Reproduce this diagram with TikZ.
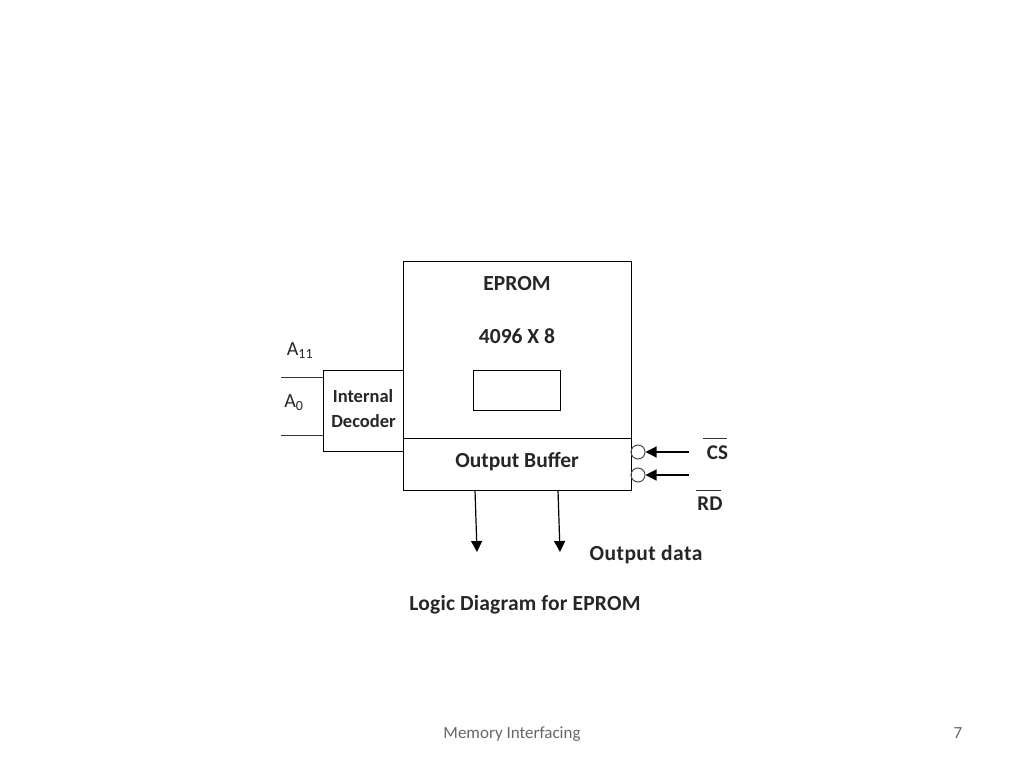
\documentclass[tikz,border=0pt]{standalone}
\usepackage{fontspec}
\setmainfont{Carlito}
\usetikzlibrary{arrows.meta}
\tikzset{
    block/.style={draw, inner sep=0pt, line width=1pt, fill=white},
    label/.style={inner sep=0pt, text=black!85},
    boldlabel/.style={inner sep=0pt, font=\fontsize{21.5}{24}\selectfont\bfseries, text=black!85},
    bubble/.style={draw=black!70, circle, inner sep=0pt, minimum size=14pt, line width=1pt},
    sig/.style={line width=1pt, black!80},
    flow/.style={line width=1.2pt, -{Triangle[length=11pt, width=11pt]}},
}
\begin{document}
\begin{tikzpicture}[x=1pt, y=-1pt]
    \useasboundingbox (0,0) rectangle (1024,768);

    \draw (517,375.5) node[block, minimum width=228pt, minimum height=229pt] (eprom) {};
    \draw (517,464) node[block, minimum width=228pt, minimum height=52pt] (buffer) {};
    \draw (363,410.5) node[block, minimum width=80pt, minimum height=81pt, align=center] (decoder) {};
    \draw (517,390) node[block, minimum width=87pt, minimum height=40pt] (cell) {};

    \draw (517,283.5) node[boldlabel] (title) {EPROM};
    \draw (517,336) node[boldlabel] (size) {4096 X 8};
    \draw (517,462) node[boldlabel] (buffertext) {Output Buffer};
    \draw (363,396) node[label, font=\fontsize{18.5}{20}\selectfont\bfseries] (dectop) {Internal};
    \draw (363.5,421) node[label, font=\fontsize{18.5}{20}\selectfont\bfseries] (decbot) {Decoder};

    \draw (300,351) node[label, font=\fontsize{20}{22}\selectfont] (a11) {A\textsubscript{11}};
    \draw (294,403) node[label, font=\fontsize{20}{22}\selectfont] (a0) {A\textsubscript{0}};
    \draw (717.5,453) node[boldlabel, font=\fontsize{21}{24}\selectfont\bfseries] (cs) {CS};
    \draw (710,504) node[boldlabel, font=\fontsize{21}{24}\selectfont\bfseries] (rd) {RD};
    \draw (646,555) node[boldlabel, font=\fontsize{21.5}{24}\selectfont\bfseries\addfontfeature{LetterSpace=2}] (outdata) {Output data};
    \draw (525,605) node[boldlabel, font=\fontsize{21.5}{24}\selectfont\bfseries\addfontfeature{LetterSpace=1}] (caption) {Logic Diagram for EPROM};
    \draw (512,734) node[label, text=black!60, font=\fontsize{17}{18}\selectfont] (footer) {Memory Interfacing};
    \draw (958,733) node[label, text=black!60, font=\fontsize{17}{18}\selectfont] (pageno) {7};

    \draw (638,452) node[bubble] (cscirc) {};
    \draw (638,475) node[bubble] (rdcirc) {};

    \coordinate (a11in) at (281,377);
    \coordinate (a11out) at (323,377);
    \coordinate (a0in) at (281,435);
    \coordinate (a0out) at (323,435);
    \coordinate (csin) at (689,452);
    \coordinate (rdin) at (689,475);
    \coordinate (out1a) at (475,490);
    \coordinate (out1b) at (477,552);
    \coordinate (out2a) at (558,490);
    \coordinate (out2b) at (560,552);
    \coordinate (csbara) at (703,438);
    \coordinate (csbarb) at (727,438);
    \coordinate (rdbara) at (696,490);
    \coordinate (rdbarb) at (721,490);

    \draw[sig] (a11in) -- (a11out);
    \draw[sig] (a0in) -- (a0out);
    \draw[sig] (csbara) -- (csbarb);
    \draw[sig] (rdbara) -- (rdbarb);
    \draw[flow] (csin) -- (cscirc);
    \draw[flow] (rdin) -- (rdcirc);
    \draw[flow] (out1a) -- (out1b);
    \draw[flow] (out2a) -- (out2b);
\end{tikzpicture}
\end{document}
